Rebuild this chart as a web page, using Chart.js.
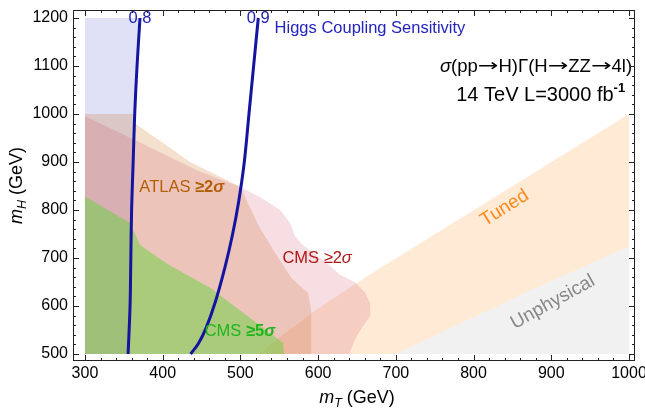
<!DOCTYPE html>
<html><head><meta charset="utf-8">
<script src="https://cdn.jsdelivr.net/npm/chart.js@4/dist/chart.umd.min.js"></script>
<style>html,body{margin:0;padding:0;background:#fff;}canvas{display:block;}</style>
</head><body>
<canvas id="c" width="645" height="410"></canvas>
<script>
// ---- data (GeV) ----
const xTicks = [300,400,500,600,700,800,900,1000];
const yTicks = [500,600,700,800,900,1000,1100,1200];
const contour08 = [[370.8,1200],[367,1100],[364,1000],[362,900],[360,800],[359,700],[358,600],[355.5,500]];
const contour09 = [[523,1200],[517,1100],[511,1000],[505,900],[498,820],[490,750],[480,680],[468,610],[456,555],[446,522],[436,500]];
const atlas2 = [[300,1000],[362,1000],[364,981],[400,940],[435,900],[483,862],[500,848],[523,769],[542,717],[566,658],[587,627],[591,592],[591,500],[300,500]];
const cms2 = [[300,996],[364,946],[444,883],[500,848],[525,827],[551,800],[564,773],[570,746],[580,727],[611,690],[628,665],[647,650],[660,629],[667,606],[667,579],[656,554],[647,529],[640,500],[300,500]];
const cms5 = [[300,828],[358,773],[371,727],[392,703],[409,685],[461,638],[555,523],[556,500],[300,500]];
const tunedUpper = [[525,500],[545,528],[600,595],[667,666],[1000,1000]];
const physLimit = [[700,500],[870,630],[1000,724]];
const plotCorner = [[300,500],[300,1200],[1000,500]];

// ---- build ----
const pts = a => a.map(([x,y]) => ({x, y}));
const closed = a => pts([...a, a[0]]);
const higgsRegion = [plotCorner[0], plotCorner[1], ...contour08];
const tunedRegion = [...tunedUpper, ...physLimit.slice().reverse()];
const unphysRegion = [...physLimit, plotCorner[2]];

function region(label, poly, color, order) {
  return {label, data: closed(poly), fill: 'shape', backgroundColor: color,
    borderColor: 'rgba(0,0,0,0)', borderWidth: 0, pointRadius: 0, tension: 0, order};
}
function contour(label, line) {
  return {label, data: pts(line), fill: false, borderColor: '#1414a0', borderWidth: 3,
    pointRadius: 0, tension: 0.35, order: 0};
}
const FAM = '"Liberation Sans", Arial, Helvetica, sans-serif';
const ARR = '"DejaVu Sans", sans-serif';

function rich(ctx, x, y, segs, align) {
  let w = 0;
  segs.forEach(s => { ctx.font = s.f; s.w = ctx.measureText(s.t).width * (s.sx || 1); w += s.w; });
  let cx = align === 'center' ? x - w/2 : (align === 'right' ? x - w : x);
  segs.forEach(s => {
    ctx.font = s.f; if (s.c) ctx.fillStyle = s.c; ctx.textAlign = 'left';
    if (s.sx) { ctx.save(); ctx.translate(cx, y + (s.dy || 0)); ctx.scale(s.sx, 1); ctx.fillText(s.t, 0, 0); ctx.restore(); }
    else ctx.fillText(s.t, cx, y + (s.dy || 0));
    cx += s.w; });
}

const decor = {
  id: 'decor',
  afterDatasetsDraw(chart) {
    const ctx = chart.ctx, X = chart.scales.x, Y = chart.scales.y;
    const px = v => X.getPixelForValue(v), py = v => Y.getPixelForValue(v);
    ctx.save();
    ctx.textBaseline = 'middle';
    const f = (sz, st) => (st || '') + ' ' + sz + 'px ' + FAM;
    const a = sz => sz + 'px ' + ARR;
    // contour labels
    ctx.fillStyle = '#2020b0';
    rich(ctx, px(contour08[0][0]), py(contour08[0][1]), [{t:'0.8', f:f(16.5)}], 'center');
    rich(ctx, px(contour09[0][0]), py(contour09[0][1]), [{t:'0.9', f:f(16.5)}], 'center');
    rich(ctx, px(544), py(1179), [{t:'Higgs Coupling Sensitivity', f:f(16.5), c:'#2323be'}], 'left');
    // process text
    rich(ctx, px(1004), py(1098), [
      {t:'σ', f:f(18.5,'italic'), c:'#000'}, {t:'(pp', f:f(18.5)}, {t:'→', f:a(17), sx:1.45}, {t:'H)Γ(H', f:f(18.5)},
      {t:'→', f:a(17), sx:1.45}, {t:'ZZ', f:f(18.5)}, {t:'→', f:a(17), sx:1.45}, {t:'4l)', f:f(18.5)}], 'right');
    rich(ctx, px(995), py(1039), [{t:'14 TeV L=3000 fb', f:f(20), c:'#000'}, {t:'-1', f:f(13,'bold'), dy:-7}], 'right');
    // region labels
    rich(ctx, px(370), py(848), [{t:'ATLAS ', f:f(16.5), c:'#b45f06'}, {t:'≥2', f:f(16.5,'bold')}, {t:'σ', f:f(16.5,'italic bold')}], 'left');
    rich(ctx, px(554), py(699), [{t:'CMS ≥2', f:f(16.5), c:'#b01616'}, {t:'σ', f:f(16.5,'italic')}], 'left');
    rich(ctx, px(454), py(546), [{t:'CMS ', f:f(16.5), c:'#1fb41f'}, {t:'≥5', f:f(16.5,'bold')}, {t:'σ', f:f(16.5,'italic bold')}], 'left');
    // rotated labels
    ctx.save(); ctx.translate(px(840), py(804)); ctx.rotate(-32*Math.PI/180);
    rich(ctx, 0, 0, [{t:'Tuned', f:f(19), c:'#ff8a1e'}], 'center'); ctx.restore();
    ctx.save(); ctx.translate(px(902), py(608)); ctx.rotate(-29*Math.PI/180);
    rich(ctx, 0, 0, [{t:'Unphysical', f:f(19), c:'#888888'}], 'center'); ctx.restore();
    ctx.restore();
  },
  afterDraw(chart) {
    const ctx = chart.ctx, a = chart.chartArea, X = chart.scales.x, Y = chart.scales.y;
    ctx.save();
    ctx.strokeStyle = '#222'; ctx.lineWidth = 1;
    ctx.strokeRect(Math.round(a.left)+0.5, Math.round(a.top)+0.5, Math.round(a.right-a.left)-1, Math.round(a.bottom-a.top)-1);
    ctx.beginPath();
    for (let v = xTicks[0]; v <= xTicks[xTicks.length-1]; v += 20) {
      const major = xTicks.includes(v), L = major ? 6 : 3;
      const x = Math.round(X.getPixelForValue(v)) + 0.5;
      ctx.moveTo(x, a.bottom); ctx.lineTo(x, a.bottom - L);
      ctx.moveTo(x, a.top); ctx.lineTo(x, a.top + L);
    }
    for (let v = yTicks[0]; v <= yTicks[yTicks.length-1]; v += 20) {
      const major = yTicks.includes(v), L = major ? 6 : 3;
      const y = Math.round(Y.getPixelForValue(v)) + 0.5;
      ctx.moveTo(a.left, y); ctx.lineTo(a.left + L, y);
      ctx.moveTo(a.right, y); ctx.lineTo(a.right - L, y);
    }
    ctx.stroke();
    // axis titles
    ctx.fillStyle = '#000'; ctx.textBaseline = 'alphabetic';
    const cx = (a.left + a.right)/2;
    rich(ctx, cx + 3, 403, [{t:'m', f:'italic 18px ' + FAM}, {t:'T', f:'italic 12.5px ' + FAM, dy:4}, {t:' (GeV)', f:'18px ' + FAM}], 'center');
    ctx.save(); ctx.translate(22, (a.top + a.bottom)/2); ctx.rotate(-Math.PI/2);
    rich(ctx, 0, 0, [{t:'m', f:'italic 18px ' + FAM}, {t:'H', f:'italic 12.5px ' + FAM, dy:4}, {t:' (GeV)', f:'18px ' + FAM}], 'center');
    ctx.restore();
    ctx.restore();
  }
};

new Chart(document.getElementById('c'), {
  type: 'line',
  data: { datasets: [
    contour('0.8', contour08),
    contour('0.9', contour09),
    region('CMS ≥5σ', cms5, 'rgba(80,215,40,0.42)', 2),
    region('CMS ≥2σ', cms2, 'rgba(200,60,90,0.17)', 3),
    region('ATLAS ≥2σ', atlas2, 'rgba(205,125,45,0.24)', 4),
    region('Higgs coupling', higgsRegion, 'rgba(60,60,200,0.16)', 5),
    region('Tuned', tunedRegion, 'rgba(255,160,70,0.22)', 6),
    region('Unphysical', unphysRegion, 'rgba(120,120,120,0.1)', 7)
  ]},
  options: {
    responsive: false, animation: false, devicePixelRatio: 1,
    layout: {padding: {left: 0, right: 10, top: 10, bottom: 0}},
    plugins: {legend: {display: false}, tooltip: {enabled: false}},
    scales: {
      x: {type: 'linear', min: 284.6, max: 1007.7,
        afterBuildTicks: s => { s.ticks = xTicks.map(v => ({value: v})); },
        afterFit: s => { s.height = 49; s.paddingLeft = 0; s.paddingRight = 0; },
        grid: {display: false, drawTicks: false}, border: {display: false},
        ticks: {font: {family: FAM, size: 16}, color: '#000', padding: 3, maxRotation: 0, autoSkip: false,
          callback: v => String(v)}},
      y: {type: 'linear', min: 485.4, max: 1216.7,
        afterBuildTicks: s => { s.ticks = yTicks.map(v => ({value: v})); },
        afterFit: s => { s.width = 73; s.paddingTop = 0; s.paddingBottom = 0; },
        grid: {display: false, drawTicks: false}, border: {display: false},
        ticks: {font: {family: FAM, size: 16}, color: '#000', padding: 5, autoSkip: false,
          callback: v => String(v)}}
    }
  },
  plugins: [decor]
});
</script>
</body></html>
